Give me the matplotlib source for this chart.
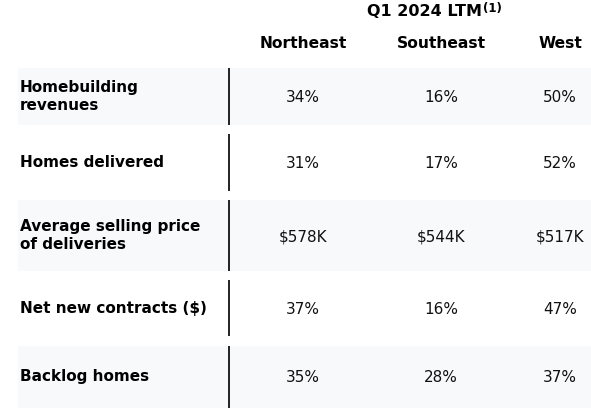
import matplotlib.pyplot as plt

# table contents
title = "Q1 2024 LTM"
title_note = "(1)"
regions = ["Northeast", "Southeast", "West"]
row_labels = ["Homebuilding\nrevenues", "Homes delivered",
              "Average selling price\nof deliveries", "Net new contracts ($)",
              "Backlog homes"]
homebuilding_revenues = [34, 16, 50]
homes_delivered = [31, 17, 52]
avg_selling_price_k = [578, 544, 517]
net_new_contracts = [37, 16, 47]
backlog_homes = [35, 28, 37]

rows = [homebuilding_revenues, homes_delivered, avg_selling_price_k,
        net_new_contracts, backlog_homes]
formats = ["{}%", "{}%", "${}K", "{}%", "{}%"]

# layout in pixels
W, H = 591, 408
col_x = [303, 441, 560]
row_bounds = [(68, 125), (134, 191), (200, 271), (280, 336), (346, 408)]
band_color = "#F7F9FB"

fig = plt.figure(figsize=(W / 100, H / 100), dpi=100)
ax = fig.add_axes([0, 0, 1, 1])
ax.set_xlim(0, W)
ax.set_ylim(H, 0)
ax.axis("off")

plt.rcParams['font.family'] = 'DejaVu Sans'

# title and headers
ax.text(367, 11, title, ha="left", va="center", fontsize=11.5, fontweight="bold")
ax.text(483, 8.5, title_note, ha="left", va="center", fontsize=8.5, fontweight="bold")
for x, r in zip(col_x, regions):
    ax.text(x, 44, r, ha="center", va="center", fontsize=11.2, fontweight="bold")

for i, (label, vals, fmt) in enumerate(zip(row_labels, rows, formats)):
    top, bot = row_bounds[i]
    mid = (top + bot) / 2
    if i % 2 == 0:
        ax.fill_between([18, W], top, bot, color=band_color, lw=0, zorder=0)
    ax.plot([229, 229], [top, bot], color="#111111", lw=1.3, solid_capstyle="butt")
    ax.text(20, mid, label, ha="left", va="center", fontsize=11,
            fontweight="bold", linespacing=1.25)
    for x, v in zip(col_x, vals):
        ax.text(x, mid + 1, fmt.format(v), ha="center", va="center",
                fontsize=11, color="#111111")

fig.savefig("out.png", dpi=100)
